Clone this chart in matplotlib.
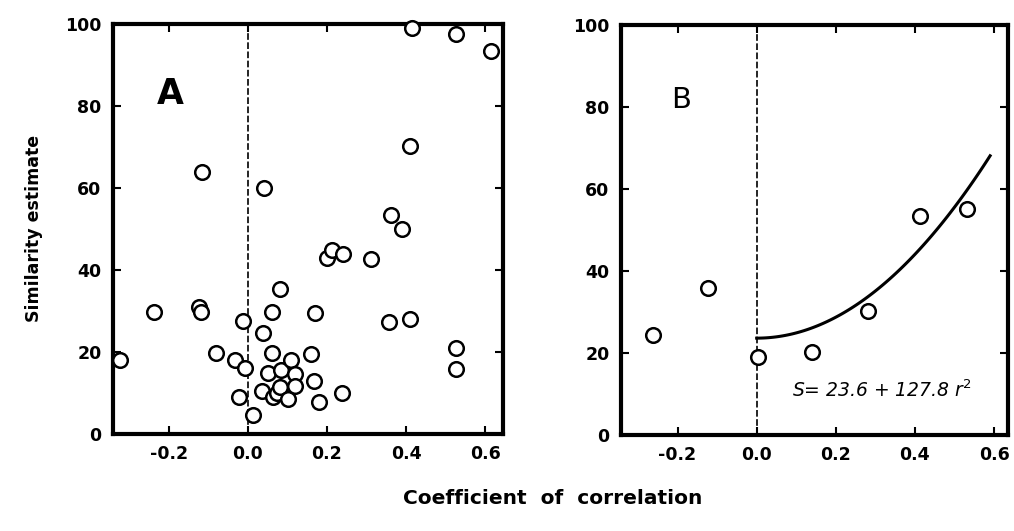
import numpy as np
import matplotlib
matplotlib.use("Agg")
from matplotlib import pyplot as plt

# panel A: correlation vs similarity estimate
a_r = [-0.324, -0.238, -0.124, -0.119, -0.116, -0.081, -0.033, -0.023, -0.013, -0.008,
       0.012, 0.037, 0.038, 0.04, 0.05, 0.06, 0.06, 0.064, 0.073, 0.081,
       0.081, 0.085, 0.101, 0.108, 0.119, 0.119, 0.159, 0.167, 0.17, 0.18,
       0.2, 0.213, 0.238, 0.24, 0.311, 0.357, 0.362, 0.39, 0.41, 0.41,
       0.415, 0.527, 0.527, 0.527, 0.615]
a_s = [18.0, 29.8, 31.0, 29.8, 63.9, 19.7, 17.9, 8.9, 27.6, 16.1,
       4.7, 10.5, 24.7, 60.0, 14.8, 29.7, 19.8, 9.1, 10.0, 35.3,
       11.5, 15.6, 8.5, 18.0, 14.6, 11.7, 19.5, 12.9, 29.5, 7.8,
       42.9, 44.9, 9.9, 43.8, 42.6, 27.4, 53.4, 50.0, 70.2, 28.0,
       99.0, 97.5, 20.9, 15.8, 93.3]

# panel B: grouped means and fitted curve S = 23.6 + 127.8 r^2
b_r = [-0.263, -0.122, 0.003, 0.139, 0.281, 0.413, 0.532]
b_s = [24.4, 35.9, 19.1, 20.1, 30.1, 53.4, 55.1]
fit_a = 23.6
fit_b = 127.8
fit_r_max = 0.59

xticks = [-0.2, 0.0, 0.2, 0.4, 0.6]
xticklabels = ["-0.2", "0.0", "0.2", "0.4", "0.6"]
yticks = [0, 20, 40, 60, 80, 100]

plt.rcParams['font.family'] = ['DejaVu Sans']

fig = plt.figure(figsize=(10.14, 5.31), dpi=100)
axA = fig.add_axes([0.111, 0.183, 0.385, 0.772])
axB = fig.add_axes([0.612, 0.181, 0.382, 0.772])


def style_axis(ax, xlim):
    ax.set_xlim(*xlim)
    ax.set_ylim(0, 100)
    ax.set_xticks(xticks)
    ax.set_xticklabels(xticklabels)
    ax.set_yticks(yticks)
    ax.tick_params(direction='in', top=True, right=True, length=6, width=1.5,
                   labelsize=12.5, pad=8)
    for lab in ax.get_xticklabels() + ax.get_yticklabels():
        lab.set_fontweight('bold')
    for sp in ax.spines.values():
        sp.set_linewidth(3)
    ax.axvline(0, color='black', lw=1.2, ls=(0, (4, 1.5)), zorder=1)


style_axis(axA, (-0.342, 0.645))
axA.plot(a_r, a_s, 'o', ms=10.5, mfc='white', mec='black', mew=1.8, clip_on=False, zorder=3)
axA.text(-0.195, 83, "A", fontsize=25, fontweight='bold', ha='center', va='center')

style_axis(axB, (-0.344, 0.635))
axB.plot(b_r, b_s, 'o', ms=10.5, mfc='white', mec='black', mew=1.8, clip_on=False, zorder=3)
r = np.linspace(0, fit_r_max, 100)
axB.plot(r, fit_a + fit_b * r ** 2, color='black', lw=2.2, zorder=2)
axB.text(-0.192, 81.7, "B", fontsize=21, ha='center', va='center')
axB.text(0.09, 11, "S= 23.6 + 127.8 $r^2$", fontsize=13.5, style='italic', ha='left', va='center')

axA.set_ylabel("Similarity estimate", fontsize=12.5, fontweight='bold', labelpad=16)
fig.text(0.545, 0.062, "Coefficient  of  correlation", fontsize=14.5, fontweight='bold',
         ha='center', va='center')

fig.savefig("out.png", dpi=100)
